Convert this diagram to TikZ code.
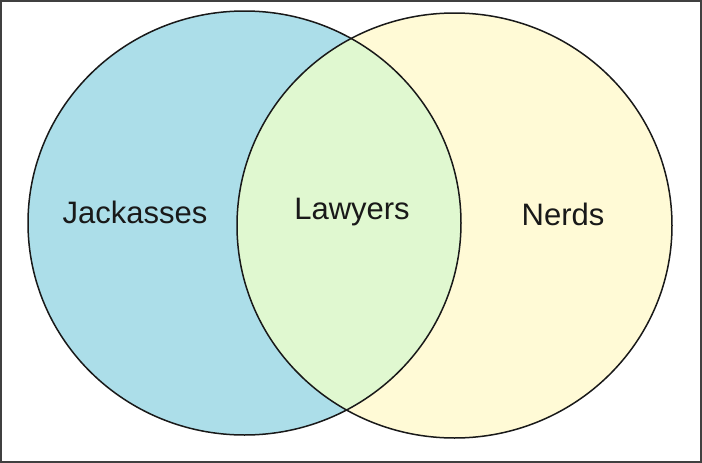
\documentclass[tikz,border=0pt]{standalone}
\usepackage{fontspec}
\setmainfont{Liberation Sans}
\usepackage{tikz}

\definecolor{jackblue}{RGB}{172,222,233}
\definecolor{nerdyellow}{RGB}{255,250,214}
\definecolor{lawgreen}{RGB}{224,248,208}

\begin{document}
\begin{tikzpicture}[x=1pt, y=-1pt, line width=1.5pt]
  \useasboundingbox (0,0) rectangle (702,463);

  % Fill the two sets
  \fill[jackblue] (244.5,223) ellipse [x radius=216.5, y radius=212];
  \fill[nerdyellow] (454.5,225.5) ellipse [x radius=217.5, y radius=212.5];
  \begin{scope}
    \clip (244.5,223) ellipse [x radius=216.5, y radius=212];
    \fill[lawgreen] (454.5,225.5) ellipse [x radius=217.5, y radius=212.5];
  \end{scope}

  % Draw the outlines
  \draw[black!90] (244.5,223) ellipse [x radius=216.5, y radius=212];
  \draw[black!90] (454.5,225.5) ellipse [x radius=217.5, y radius=212.5];

  % labels
  \node[font=\fontsize{31}{36}\selectfont, text=black!90] (jackasses) at (135,212) {Jackasses};
  \node[font=\fontsize{31}{36}\selectfont, text=black!90] (lawyers) at (352,212) {Lawyers};
  \node[font=\fontsize{31}{36}\selectfont, text=black!90] (nerds) at (563,214) {Nerds};

  % frame
  \draw[black!75, line width=2pt] (1,1) rectangle (701,462);
\end{tikzpicture}
\end{document}
